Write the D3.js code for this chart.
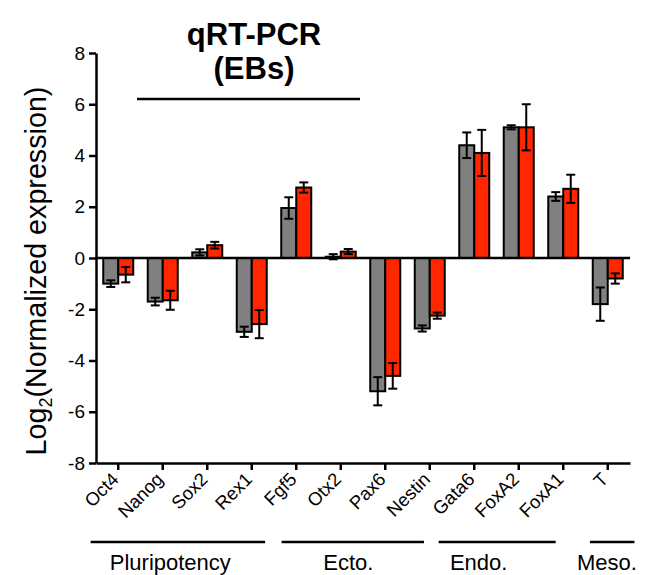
<!DOCTYPE html>
<html>
<head>
<meta charset="utf-8">
<script src="https://cdn.jsdelivr.net/npm/d3@7"></script>
<style>
  body { margin: 0; background: #fff; }
  text { font-family: "Liberation Sans", Arial, Helvetica, sans-serif; fill: #000; }
</style>
</head>
<body>
<script>
const WIDTH = 649
const HEIGHT = 575

// data
const genes = ['Oct4', 'Nanog', 'Sox2', 'Rex1', 'Fgf5', 'Otx2', 'Pax6', 'Nestin', 'Gata6', 'FoxA2', 'FoxA1', 'T']
const greyMean = [-1.0, -1.7, 0.22, -2.88, 1.95, 0.05, -5.2, -2.75, 4.4, 5.1, 2.4, -1.8]
const greyErr = [0.13, 0.15, 0.12, 0.2, 0.42, 0.1, 0.55, 0.12, 0.5, 0.08, 0.17, 0.65]
const redMean = [-0.65, -1.65, 0.5, -2.58, 2.75, 0.25, -4.6, -2.25, 4.1, 5.1, 2.7, -0.8]
const redErr = [0.3, 0.37, 0.13, 0.55, 0.2, 0.1, 0.5, 0.12, 0.9, 0.9, 0.55, 0.2]
const yTicks = [-8, -6, -4, -2, 0, 2, 4, 6, 8]
const groupNames = ['Pluripotency', 'Ecto.', 'Endo.', 'Meso.']
// span of each group bracket, in category units (0 = Oct4 centre)
const groupSpans = [[-0.62, 3.3], [3.67, 6.87], [7.2, 9.83], [10.6, 11.6]]
const groupLabelAt = [1.17, 5.17, 8.1, 10.98]

const svg = d3.select('body')
    .append('svg')
    .attr('width', WIDTH)
    .attr('height', HEIGHT)

const MARGIN_LEFT = 96
const RIGHT = 630
const TOP = 53
const BOTTOM = 463

const x = d3.scaleBand()
    .domain(genes)
    .range([MARGIN_LEFT, RIGHT])

const series = ['grey', 'red']
const xSub = d3.scaleBand()
    .domain(series)
    .range([x.bandwidth() / 2 - 15, x.bandwidth() / 2 + 15])

const y = d3.scaleLinear()
    .domain([-8, 8])
    .range([BOTTOM, TOP])

const colors = { grey: '#808080', red: '#ff2600' }

const rows = []
genes.forEach((g, i) => {
    rows.push({ gene: g, s: 'grey', v: greyMean[i], e: greyErr[i] })
    rows.push({ gene: g, s: 'red', v: redMean[i], e: redErr[i] })
})

// bars
svg.append('g')
    .selectAll('rect')
    .data(rows)
    .enter()
    .append('rect')
    .attr('x', d => x(d.gene) + xSub(d.s))
    .attr('width', xSub.bandwidth())
    .attr('y', d => y(Math.max(0, d.v)))
    .attr('height', d => Math.abs(y(d.v) - y(0)))
    .attr('fill', d => colors[d.s])
    .attr('stroke', '#000')
    .attr('stroke-width', 2)

// error bars
const eb = svg.append('g')
    .attr('stroke', '#000')
    .attr('stroke-width', 2)

rows.forEach(d => {
    const cx = x(d.gene) + xSub(d.s) + xSub.bandwidth() / 2
    const y0 = y(d.v - d.e)
    const y1 = y(d.v + d.e)
    eb.append('line').attr('x1', cx).attr('x2', cx).attr('y1', y0).attr('y2', y1)
    eb.append('line').attr('x1', cx - 4.5).attr('x2', cx + 4.5).attr('y1', y0).attr('y2', y0)
    eb.append('line').attr('x1', cx - 4.5).attr('x2', cx + 4.5).attr('y1', y1).attr('y2', y1)
})

// zero line
svg.append('line')
    .attr('x1', MARGIN_LEFT)
    .attr('x2', RIGHT)
    .attr('y1', y(0))
    .attr('y2', y(0))
    .attr('stroke', '#000')
    .attr('stroke-width', 2.5)

// y axis
const yAxis = d3.axisLeft(y)
    .tickValues(yTicks)
    .tickFormat(d => `${d}`)
    .tickSize(7)
    .tickSizeOuter(0)
    .tickPadding(4)

const gy = svg.append('g')
    .attr('transform', `translate(${MARGIN_LEFT}, 0)`)
    .call(yAxis)
gy.select('.domain').attr('stroke-width', 2.5)
gy.selectAll('.tick line').attr('stroke-width', 2.5)
gy.selectAll('.tick text')
    .attr('font-size', 19)
    .attr('font-family', '"Liberation Sans", Arial, sans-serif')

// x axis
const xAxis = d3.axisBottom(x)
    .tickSize(7)
    .tickSizeOuter(0)

const gx = svg.append('g')
    .attr('transform', `translate(0, ${BOTTOM})`)
    .call(xAxis)
gx.select('.domain').attr('stroke-width', 2.5)
gx.selectAll('.tick line').attr('stroke-width', 2.5)
gx.selectAll('.tick text')
    .attr('font-size', 18.5)
    .attr('font-family', '"Liberation Sans", Arial, sans-serif')
    .attr('text-anchor', 'end')
    .attr('x', -3)
    .attr('y', 13)
    .attr('dy', '0.35em')
    .attr('transform', 'rotate(-45, -3, 13)')

// y label
const yl = svg.append('text')
    .attr('transform', `translate(46, ${(TOP + BOTTOM) / 2 + 13}) rotate(-90)`)
    .attr('text-anchor', 'middle')
    .attr('font-size', 28.7)
yl.append('tspan').text('Log')
yl.append('tspan').text('2').attr('font-size', 18).attr('dy', 6)
yl.append('tspan').text('(Normalized expression)').attr('dy', -6)

// title
svg.append('text')
    .attr('x', 254)
    .attr('y', 45)
    .attr('text-anchor', 'middle')
    .attr('font-size', 31)
    .attr('font-weight', 'bold')
    .text('qRT-PCR')
svg.append('text')
    .attr('x', 254)
    .attr('y', 79)
    .attr('text-anchor', 'middle')
    .attr('font-size', 31)
    .attr('font-weight', 'bold')
    .text('(EBs)')
svg.append('line')
    .attr('x1', 137)
    .attr('x2', 360)
    .attr('y1', 99)
    .attr('y2', 99)
    .attr('stroke', '#000')
    .attr('stroke-width', 2.5)

// group brackets
const catX = c => x(genes[0]) + x.bandwidth() / 2 + c * x.step()
const groups = svg.append('g')
groupNames.forEach((name, i) => {
    groups.append('line')
        .attr('x1', catX(groupSpans[i][0]))
        .attr('x2', catX(groupSpans[i][1]))
        .attr('y1', 542)
        .attr('y2', 542)
        .attr('stroke', '#000')
        .attr('stroke-width', 2.5)
    groups.append('text')
        .attr('x', catX(groupLabelAt[i]))
        .attr('y', 570)
        .attr('text-anchor', 'middle')
        .attr('font-size', 22)
        .text(name)
})
</script>
</body>
</html>
